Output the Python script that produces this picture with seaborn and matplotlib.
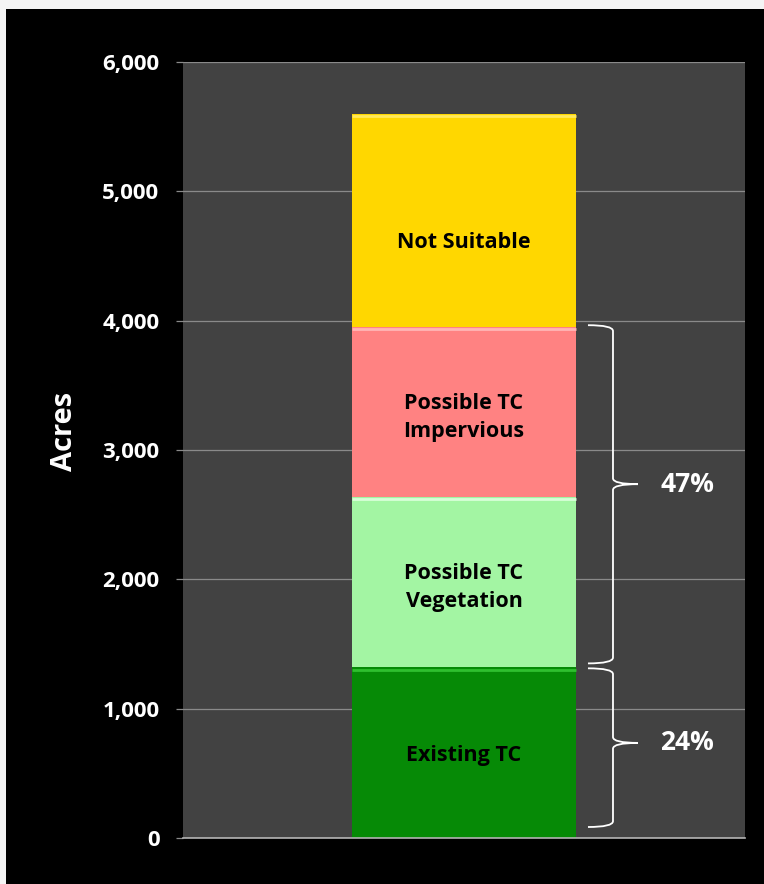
import numpy as np
import pandas as pd
import matplotlib
matplotlib.use("Agg")
import matplotlib.pyplot as plt
from matplotlib.patches import Rectangle, PathPatch
from matplotlib.path import Path
import seaborn as sns

# Land cover breakdown (acres), stacked bottom to top
segments = ["Existing TC", "Possible TC\nVegetation", "Possible TC\nImpervious", "Not Suitable"]
acres = [1320, 1320, 1310, 1650]
bar_colors = ["#068a06", "#a3f5a3", "#ff8282", "#ffd700"]
highlight_colors = ["#2fbf2f", "#d8ffd8", "#ffb6b6", "#ffe85c"]
y_ticks = [0, 1000, 2000, 3000, 4000, 5000, 6000]
y_tick_labels = ["0", "1,000", "2,000", "3,000", "4,000", "5,000", "6,000"]
column = "Acres"

sns.set_theme(style="dark")
plt.rcParams["font.family"] = ["Open Sans", "DejaVu Sans"]

W, H = 764, 884
fig = plt.figure(figsize=(W / 100, H / 100), dpi=100, facecolor="black")
# thin light margin along the top and left edges
fig.patches.append(Rectangle((0, (H - 9) / H), 1, 9 / H, transform=fig.transFigure,
                             facecolor="#f4f4f4", edgecolor="none", zorder=-10))
fig.patches.append(Rectangle((0, 0), 6 / W, 1, transform=fig.transFigure,
                             facecolor="#f4f4f4", edgecolor="none", zorder=-10))
ax = fig.add_axes([183 / W, 46 / H, 562 / W, 776 / H])
ax.set_facecolor("#424242")

cum = np.cumsum(acres)
total = cum[-1]

# draw cumulative bars from the tallest down so each covers the one beneath
for i in reversed(range(len(acres))):
    df = pd.DataFrame({"column": [column], "top": [cum[i]]})
    sns.barplot(data=df, x="column", y="top", color=bar_colors[i], saturation=1,
                width=0.4, errorbar=None, edgecolor="none", linewidth=0, ax=ax, zorder=2)

# light bevel strip along the top of each segment
for i in range(len(acres)):
    ax.hlines(cum[i] - 18, -0.2, 0.2, color=highlight_colors[i], lw=2.0, zorder=3)

# segment captions
label_shift = [-2, -4, -4, -16]
for i, name in enumerate(segments):
    mid = cum[i] - acres[i] / 2
    ax.annotate(name, xy=(0, mid), xytext=(0, label_shift[i]), textcoords="offset points",
                ha="center", va="center", fontsize=15.5, fontweight="bold", color="black",
                linespacing=1.45, zorder=4)

# curly braces with share labels
def brace(lo, hi, tip_frac=0.53, x_arm=0.2206, x_spine=0.2651, x_tip=0.3096, r=45):
    y_tip = lo + tip_frac * (hi - lo)
    verts = [
        (x_arm, hi), (x_spine, hi), (x_spine, hi - r),
        (x_spine, y_tip + r), (x_spine, y_tip), (x_tip, y_tip),
        (x_spine, y_tip), (x_spine, y_tip - r),
        (x_spine, lo + r), (x_spine, lo), (x_arm, lo),
    ]
    codes = [
        Path.MOVETO, Path.CURVE3, Path.CURVE3,
        Path.LINETO, Path.CURVE3, Path.CURVE3,
        Path.CURVE3, Path.CURVE3,
        Path.LINETO, Path.CURVE3, Path.CURVE3,
    ]
    ax.add_patch(PathPatch(Path(verts, codes), facecolor="none", edgecolor="white",
                           lw=1.3, zorder=4, clip_on=False))
    return y_tip

existing_share = round(100 * acres[0] / total)
possible_share = round(100 * (acres[1] + acres[2]) / total)

tip_low = brace(85, cum[0] - 8)
tip_high = brace(cum[0] + 30, cum[2] + 15)
ax.text(0.397, tip_high, f"{possible_share}%", ha="center", va="center",
        fontsize=19, fontweight="bold", color="white", zorder=4)
ax.text(0.397, tip_low, f"{existing_share}%", ha="center", va="center",
        fontsize=19, fontweight="bold", color="white", zorder=4)

# axes styling
ax.set_xlim(-0.5, 0.5)
ax.set_ylim(0, 6000)
ax.set_yticks(y_ticks, y_tick_labels)
ax.set_xticks([])
ax.set_xlabel("")
ax.set_ylabel("")
ax.yaxis.grid(True, color="#8a8a8a", lw=0.9)
ax.xaxis.grid(False)
ax.set_axisbelow(True)
for side in ["left", "right", "top"]:
    ax.spines[side].set_visible(False)
ax.spines["bottom"].set_color("#b4b4b4")
ax.spines["bottom"].set_linewidth(1.2)
ax.tick_params(axis="y", left=True, length=5, width=0.9, color="#8a8a8a",
               pad=12, labelsize=16, labelcolor="white")
for lbl in ax.get_yticklabels():
    lbl.set_fontweight("bold")

ax.text((64 - 183) / 562, (838 - 431) / 776, "Acres", transform=ax.transAxes,
        rotation=90, ha="center", va="center", fontsize=21, fontweight="bold",
        color="white")

fig.savefig("out.png", dpi=100, facecolor=fig.get_facecolor())
